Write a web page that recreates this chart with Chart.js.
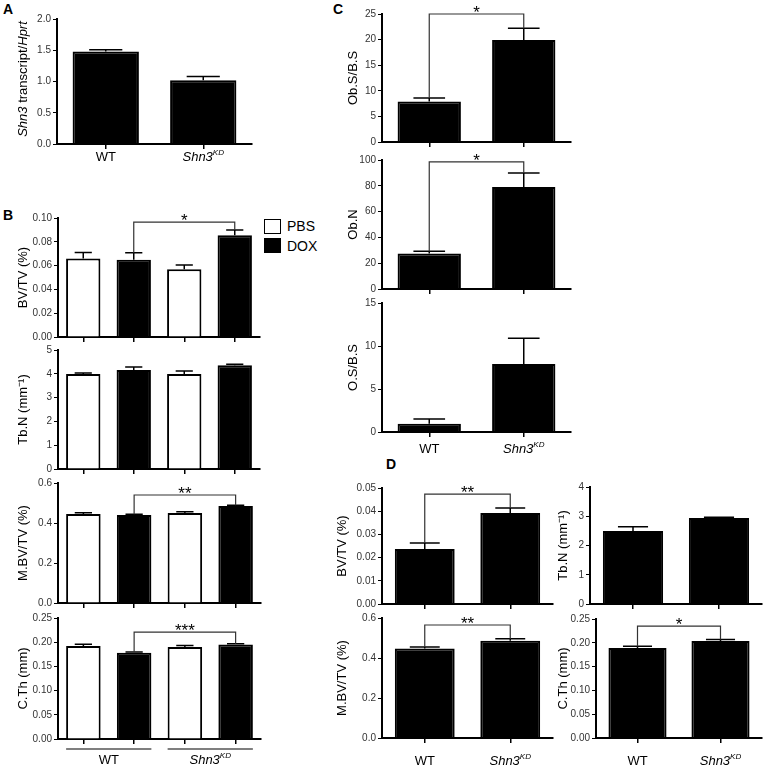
<!DOCTYPE html>
<html>
<head>
<meta charset="utf-8">
<script src="https://cdn.jsdelivr.net/npm/chart.js@4.4.1/dist/chart.umd.min.js"></script>
<style>
  body { margin: 0; background: #fff; width: 771px; height: 769px; position: relative; overflow: hidden;
         font-family: "Liberation Sans", Arial, sans-serif; }
  canvas { position: absolute; }
  .tag { position: absolute; font-weight: bold; font-size: 14px; line-height: 14px; }
  .leg { position: absolute; font-size: 14px; line-height: 16px; }
  .box { position: absolute; width: 15px; height: 13px; border: 1.5px solid #000; }
</style>
</head>
<body>
<div class="tag" style="left:3px;top:2px">A</div>
<div class="tag" style="left:3px;top:208px">B</div>
<div class="tag" style="left:333px;top:2px">C</div>
<div class="tag" style="left:386px;top:457px">D</div>

<div class="box" style="left:264px;top:219px;background:#fff"></div>
<div class="leg" style="left:287px;top:218px">PBS</div>
<div class="box" style="left:264px;top:238px;background:#000"></div>
<div class="leg" style="left:287px;top:238px">DOX</div>

<script>
// categories
const genotypes = ["WT", "Shn3KD"];
const groupsB = ["WT PBS", "WT DOX", "Shn3KD PBS", "Shn3KD DOX"];

// A: Shn3 transcript / Hprt
const shn3Transcript = [1.48, 1.02];
const shn3TranscriptSem = [0.03, 0.06];

// B: PBS / DOX, WT and Shn3KD
const bvtvB = [0.066, 0.065, 0.057, 0.0855];
const bvtvBSem = [0.005, 0.0057, 0.0035, 0.0045];
const tbnB = [3.99, 4.16, 3.99, 4.36];
const tbnBSem = [0.04, 0.13, 0.13, 0.04];
const mbvtvB = [0.445, 0.44, 0.45, 0.485];
const mbvtvBSem = [0.006, 0.004, 0.006, 0.004];
const cthB = [0.192, 0.178, 0.19, 0.195];
const cthBSem = [0.004, 0.0015, 0.003, 0.002];

// C: histomorphometry
const obsbs = [7.9, 19.9];
const obsbsSem = [0.7, 2.3];
const obn = [27.5, 79];
const obnSem = [1.7, 11];
const osbs = [0.95, 7.9];
const osbsSem = [0.55, 3.0];

// D: microCT
const bvtvD = [0.0237, 0.0392];
const bvtvDSem = [0.0026, 0.0022];
const tbnD = [2.5, 2.94];
const tbnDSem = [0.14, 0.03];
const mbvtvD = [0.448, 0.486];
const mbvtvDSem = [0.007, 0.01];
const cthD = [0.189, 0.204];
const cthDSem = [0.004, 0.003];

const FONT = "'Liberation Sans', Arial, sans-serif";
Chart.defaults.font.family = FONT;

function richParts(label) {
  if (label === "Shn3KD") return [{ t: "Shn3", it: true }, { t: "KD", it: true, sup: true }];
  return [{ t: label }];
}

function drawRich(ctx, parts, cx, cy, size) {
  const fontOf = (p) => (p.it ? "italic " : "") + (p.sup ? size * 0.62 : size) + "px " + FONT;
  let total = 0;
  parts.forEach((p) => { ctx.font = fontOf(p); p.w = ctx.measureText(p.t).width; total += p.w; });
  let x = cx - total / 2;
  ctx.textAlign = "left";
  ctx.textBaseline = "middle";
  parts.forEach((p) => {
    ctx.font = fontOf(p);
    ctx.fillText(p.t, x, p.sup ? cy - size * 0.35 : cy);
    x += p.w;
  });
}

const figPlugin = {
  id: "fig",
  afterDatasetsDraw(chart) {
    const o = chart.options.plugins.fig;
    const ctx = chart.ctx;
    const ys = chart.scales.y;
    const meta = chart.getDatasetMeta(0);
    const errTop = (i) => ys.getPixelForValue(o.values[i] + o.sem[i]);
    ctx.save();

    // error bars (upper only)
    ctx.strokeStyle = "#000";
    ctx.lineWidth = 1.5;
    o.values.forEach((v, i) => {
      const bar = meta.data[i];
      const y0 = ys.getPixelForValue(v);
      const y1 = errTop(i);
      ctx.beginPath();
      ctx.moveTo(bar.x, y0);
      ctx.lineTo(bar.x, y1);
      ctx.moveTo(bar.x - bar.width / 4, y1);
      ctx.lineTo(bar.x + bar.width / 4, y1);
      ctx.stroke();
    });

    // significance bracket
    if (o.sig) {
      const s = o.sig;
      const yb = ys.getPixelForValue(s.level);
      const xa = meta.data[s.from].x, xb = meta.data[s.to].x;
      ctx.strokeStyle = "#333";
      ctx.lineWidth = 1.2;
      ctx.beginPath();
      ctx.moveTo(xa, errTop(s.from));
      ctx.lineTo(xa, yb);
      ctx.lineTo(xb, yb);
      ctx.lineTo(xb, errTop(s.to));
      ctx.stroke();
      ctx.fillStyle = "#000";
      ctx.font = "17px " + FONT;
      ctx.textAlign = "center";
      ctx.textBaseline = "alphabetic";
      ctx.fillText(s.mark, (xa + xb) / 2, yb + 4);
    }

    // x labels
    if (o.xLabels) {
      const base = chart.chartArea.bottom;
      ctx.fillStyle = "#000";
      o.xLabels.forEach((g) => {
        const a = meta.data[g.from], b = meta.data[g.to];
        const cx = (a.x + b.x) / 2;
        if (o.groupLines) {
          ctx.strokeStyle = "#555";
          ctx.lineWidth = 1.5;
          ctx.beginPath();
          ctx.moveTo(a.x - a.width / 2, base + 10);
          ctx.lineTo(b.x + b.width / 2, base + 10);
          ctx.stroke();
        }
        drawRich(ctx, richParts(g.text), cx, base + o.labelOffset, 13);
      });
    }

    // rich y title (panel A)
    if (o.richTitle) {
      ctx.translate(o.richTitle.x - (chart.canvas.offsetLeft || 0), o.richTitle.y - (chart.canvas.offsetTop || 0));
      ctx.rotate(-Math.PI / 2);
      ctx.fillStyle = "#000";
      drawRich(ctx, o.richTitle.parts, 0, 0, 13);
    }
    ctx.restore();
  },
};

function barPanel(o) {
  const c = document.createElement("canvas");
  const padTop = o.padTop || 8;
  const bottomH = o.bottomH || 9;
  const left = o.plot[0] - o.axisW;
  const top = o.plot[1] - padTop;
  const w = o.plot[2] - o.plot[0] + o.axisW + 10;
  const h = o.plot[3] - o.plot[1] + padTop + bottomH;
  c.style.left = left + "px";
  c.style.top = top + "px";
  c.width = w;
  c.height = h;
  document.body.appendChild(c);

  new Chart(c, {
    type: "bar",
    data: {
      labels: o.labels,
      datasets: [
        {
          data: o.values,
          backgroundColor: o.colors || o.values.map(() => "#000"),
          borderColor: "#000",
          borderWidth: 2,
          barPercentage: o.barPct || 0.68,
          categoryPercentage: 1,
        },
      ],
    },
    options: {
      responsive: false,
      animation: false,
      layout: { padding: { top: padTop, right: 10, left: 0, bottom: 0 } },
      plugins: {
        legend: { display: false },
        tooltip: { enabled: false },
        fig: {
          values: o.values,
          sem: o.sem,
          sig: o.sig,
          xLabels: o.xLabels,
          groupLines: o.groupLines,
          labelOffset: o.labelOffset,
          richTitle: o.richTitle,
        },
      },
      scales: {
        x: {
          grid: { display: true, drawOnChartArea: false, offset: false, tickLength: 5, color: "#000", lineWidth: 1.5 },
          border: { color: "#000", width: 2 },
          ticks: { display: false },
          afterFit: (s) => { s.height = bottomH; },
        },
        y: {
          min: o.min,
          max: o.max,
          ticks: {
            stepSize: o.step,
            callback: (v) => v.toFixed(o.dec),
            font: { size: 10 },
            color: "#333",
            padding: 2,
          },
          grid: { drawOnChartArea: false, tickLength: 4, color: "#000", lineWidth: 1 },
          border: { color: "#000", width: 2 },
          title: {
            display: !!o.title,
            text: o.title,
            font: { size: 13 },
            color: "#000",
            padding: { top: 4, bottom: 4 },
          },
          afterFit: (s) => { s.width = o.axisW; },
        },
      },
    },
    plugins: [figPlugin],
  });
}

const colorsB = ["#fff", "#000", "#fff", "#000"];

// A
barPanel({
  plot: [57, 19, 252, 144], axisW: 45, bottomH: 26, labelOffset: 13,
  labels: genotypes, values: shn3Transcript, sem: shn3TranscriptSem,
  min: 0, max: 2, step: 0.5, dec: 1,
  xLabels: [{ text: genotypes[0], from: 0, to: 0 }, { text: genotypes[1], from: 1, to: 1 }],
  richTitle: { x: 23, y: 79, parts: [{ t: "Shn3", it: true }, { t: " transcript/" }, { t: "Hprt", it: true }] },
});

// B
barPanel({
  plot: [58, 218, 260, 337], axisW: 46, padTop: 10,
  labels: groupsB, values: bvtvB, sem: bvtvBSem, colors: colorsB,
  min: 0, max: 0.1, step: 0.02, dec: 2, title: "BV/TV (%)",
  sig: { from: 1, to: 3, level: 0.0966, mark: "*" },
});
barPanel({
  plot: [58, 350, 260, 469], axisW: 46,
  labels: groupsB, values: tbnB, sem: tbnBSem, colors: colorsB,
  min: 0, max: 5, step: 1, dec: 0, title: "Tb.N (mm\u207B\u00B9)",
});
barPanel({
  plot: [58, 483, 261, 603], axisW: 46,
  labels: groupsB, values: mbvtvB, sem: mbvtvBSem, colors: colorsB,
  min: 0, max: 0.6, step: 0.2, dec: 1, title: "M.BV/TV (%)",
  sig: { from: 1, to: 3, level: 0.54, mark: "**" },
});
barPanel({
  plot: [58, 618, 261, 739], axisW: 46, bottomH: 30, labelOffset: 21, groupLines: true,
  labels: groupsB, values: cthB, sem: cthBSem, colors: colorsB,
  min: 0, max: 0.25, step: 0.05, dec: 2, title: "C.Th (mm)",
  sig: { from: 1, to: 3, level: 0.221, mark: "***" },
  xLabels: [{ text: genotypes[0], from: 0, to: 1 }, { text: genotypes[1], from: 2, to: 3 }],
});

// C
barPanel({
  plot: [382, 14, 571, 142], axisW: 40, padTop: 14, barPct: 0.67,
  labels: genotypes, values: obsbs, sem: obsbsSem,
  min: 0, max: 25, step: 5, dec: 0, title: "Ob.S/B.S",
  sig: { from: 0, to: 1, level: 25, mark: "*" },
});
barPanel({
  plot: [382, 160, 571, 289], axisW: 40, barPct: 0.67,
  labels: genotypes, values: obn, sem: obnSem,
  min: 0, max: 100, step: 20, dec: 0, title: "Ob.N",
  sig: { from: 0, to: 1, level: 98.5, mark: "*" },
});
barPanel({
  plot: [382, 303, 571, 432], axisW: 40, barPct: 0.67, bottomH: 28, labelOffset: 17,
  labels: genotypes, values: osbs, sem: osbsSem,
  min: 0, max: 15, step: 5, dec: 0, title: "O.S/B.S",
  xLabels: [{ text: genotypes[0], from: 0, to: 0 }, { text: genotypes[1], from: 1, to: 1 }],
});

// D
barPanel({
  plot: [382, 488, 553, 604], axisW: 51, barPct: 0.7,
  labels: genotypes, values: bvtvD, sem: bvtvDSem,
  min: 0, max: 0.05, step: 0.01, dec: 2, title: "BV/TV (%)",
  sig: { from: 0, to: 1, level: 0.0474, mark: "**" },
});
barPanel({
  plot: [382, 618, 553, 738], axisW: 51, barPct: 0.7, bottomH: 31, labelOffset: 23,
  labels: genotypes, values: mbvtvD, sem: mbvtvDSem,
  min: 0, max: 0.6, step: 0.2, dec: 1, title: "M.BV/TV (%)",
  sig: { from: 0, to: 1, level: 0.565, mark: "**" },
  xLabels: [{ text: genotypes[0], from: 0, to: 0 }, { text: genotypes[1], from: 1, to: 1 }],
});
barPanel({
  plot: [590, 487, 762, 604], axisW: 38, barPct: 0.7,
  labels: genotypes, values: tbnD, sem: tbnDSem,
  min: 0, max: 4, step: 1, dec: 0, title: "Tb.N (mm\u207B\u00B9)",
});
barPanel({
  plot: [596, 619, 762, 738], axisW: 44, barPct: 0.7, bottomH: 31, labelOffset: 23,
  labels: genotypes, values: cthD, sem: cthDSem,
  min: 0, max: 0.25, step: 0.05, dec: 2, title: "C.Th (mm)",
  sig: { from: 0, to: 1, level: 0.235, mark: "*" },
  xLabels: [{ text: genotypes[0], from: 0, to: 0 }, { text: genotypes[1], from: 1, to: 1 }],
});
</script>
</body>
</html>
